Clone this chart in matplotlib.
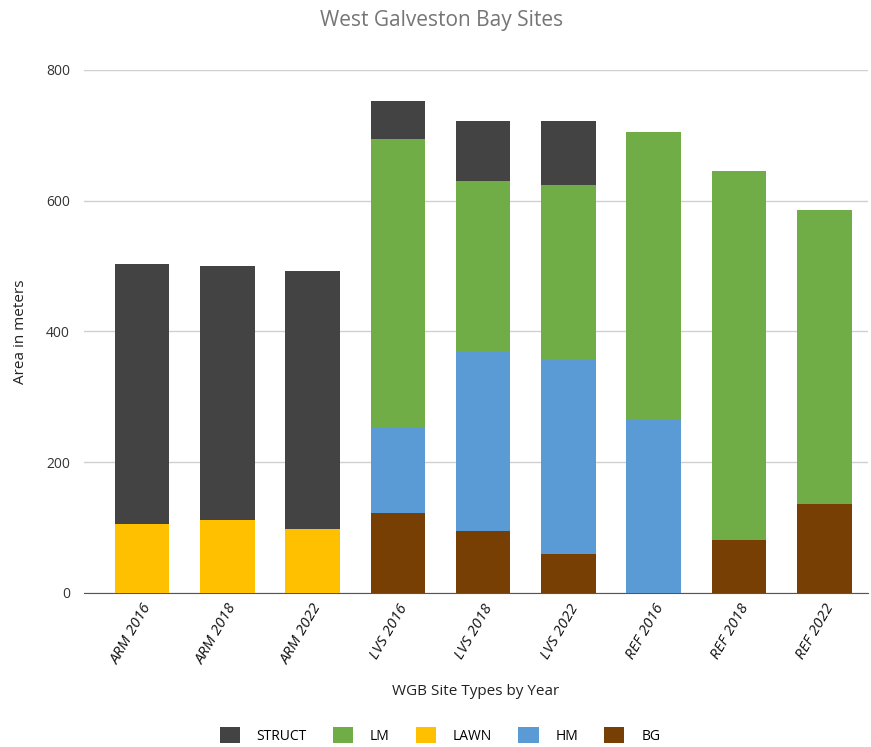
import matplotlib.pyplot as plt
import numpy as np
from matplotlib.patches import Patch

plt.rcParams["font.family"] = ["Open Sans", "DejaVu Sans"]

sites = ["ARM 2016", "ARM 2018", "ARM 2022", "LVS 2016", "LVS 2018",
         "LVS 2022", "REF 2016", "REF 2018", "REF 2022"]

# area per habitat class, stacked from the bottom up
bg = [0, 0, 0, 122, 95, 60, 0, 81, 136]
hm = [0, 0, 0, 132, 275, 298, 265, 0, 0]
lawn = [106, 112, 98, 0, 0, 0, 0, 0, 0]
lm = [0, 0, 0, 440, 260, 266, 440, 564, 450]
struct = [397, 388, 394, 58, 92, 98, 0, 0, 0]

layers = [
    ("BG", bg, "#783F04"),
    ("HM", hm, "#5B9BD5"),
    ("LAWN", lawn, "#FFC000"),
    ("LM", lm, "#70AD47"),
    ("STRUCT", struct, "#434343"),
]

fig = plt.figure(figsize=(8.71, 7.47), dpi=100)
ax = fig.add_axes([0.0964, 0.2062, 0.9, 0.7001])

x = np.arange(len(sites))
base = np.zeros(len(sites))
for name, vals, color in layers:
    vals = np.array(vals, dtype=float)
    ax.bar(x, vals, width=0.64, bottom=base, color=color, zorder=3)
    base += vals

ax.set_ylim(0, 800)
ax.set_xlim(-0.68, 8.51)
ax.set_yticks([0, 200, 400, 600, 800])
ax.yaxis.grid(True, color="#D0D0D0", linewidth=1, zorder=0)
for side in ["top", "right", "left"]:
    ax.spines[side].set_visible(False)
ax.spines["bottom"].set_color("#555555")
ax.tick_params(axis="both", length=0, labelsize=10, colors="#333333")
ax.tick_params(axis="y", pad=10)
ax.tick_params(axis="x", pad=6, colors="#111111")

ax.set_xticks(x)
ax.set_xticklabels(sites, rotation=60, ha="right", rotation_mode="anchor",
                   fontsize=11, style="italic")

ax.set_ylabel("Area in meters", fontsize=11, color="#222222", labelpad=13)
ax.set_xlabel("WGB Site Types by Year", fontsize=11, color="#222222", labelpad=12)
fig.text(0.507, 0.972, "West Galveston Bay Sites", ha="center", va="center",
         fontsize=15, color="#757575")

handles = [Patch(facecolor=c, label=n) for n, _, c in reversed(layers)]
fig.legend(handles=handles, loc="center", bbox_to_anchor=(0.505, 0.016),
           ncol=5, frameon=False, fontsize=10, handlelength=1.45,
           handleheight=1.5, columnspacing=1.9, handletextpad=1.2)

fig.savefig("out.png", dpi=100)
